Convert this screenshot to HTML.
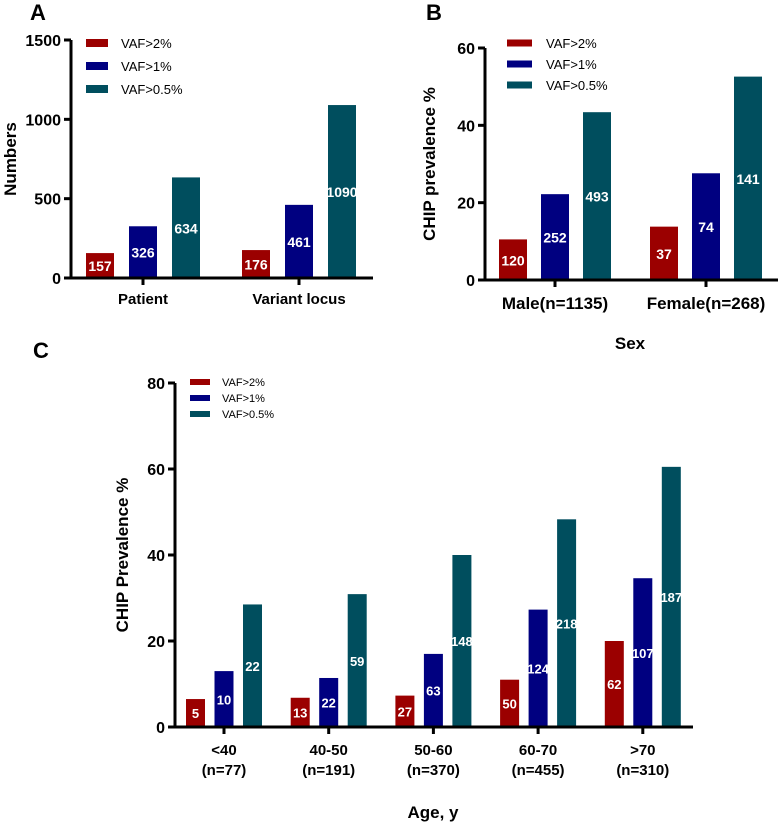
<!DOCTYPE html>
<html><head><meta charset="utf-8"><style>
body{margin:0;background:#fff;}
svg text{font-family:"Liberation Sans",Arial,sans-serif;}
</style></head><body>
<svg id="fig" width="778" height="824" viewBox="0 0 778 824" xmlns="http://www.w3.org/2000/svg"></svg>
<script>
const seriesNames=["VAF>2%","VAF>1%","VAF>0.5%"];
const colors=["#9b0000","#000080","#004e5e"];
// Panel A
const aCategories=["Patient","Variant locus"];
const aValues=[[157,176],[326,461],[634,1090]];
const aLabels=[["157","176"],["326","461"],["634","1090"]];
const aTicks=[0,500,1000,1500];
// Panel B
const bCategories=["Male(n=1135)","Female(n=268)"];
const bValues=[[10.5,13.8],[22.2,27.6],[43.4,52.6]];
const bLabels=[["120","37"],["252","74"],["493","141"]];
const bTicks=[0,20,40,60];
// Panel C
const cCategories=[["<40","(n=77)"],["40-50","(n=191)"],["50-60","(n=370)"],["60-70","(n=455)"],[">70","(n=310)"]];
const cValues=[[6.5,6.8,7.3,11,20],[13,11.4,17,27.3,34.6],[28.5,30.9,40,48.3,60.5]];
const cLabels=[["5","13","27","50","62"],["10","22","63","124","107"],["22","59","148","218","187"]];
const cTicks=[0,20,40,60,80];

const NS="http://www.w3.org/2000/svg";
const svg=document.getElementById('fig');
function mk(tag,attrs,parent,txt){const e=document.createElementNS(NS,tag);for(const k in attrs)e.setAttribute(k,attrs[k]);if(txt!==undefined)e.textContent=txt;(parent||svg).appendChild(e);return e;}

function panel(o){
  const g=mk('g',{});
  
  
  const ymax=o.ticks[o.ticks.length-1];
  const y=v=>o.y0-(v/ymax)*(o.y0-o.yTop);
  const n=o.cats.length;
  const xc=i=>o.c0+i*o.cstep;
  for(let s=0;s<3;s++){
    for(let i=0;i<n;i++){
      const v=o.vals[s][i];
      const x=xc(i)+(s-1)*o.bstep-o.bw/2;
      const r=mk('rect',{x:x,y:y(v),width:o.bw,height:o.y0-y(v),fill:colors[s]},g);
      
      
      const ty=Math.min((y(v)+o.y0)/2+o.fs*0.4, o.y0-4);
      const t=mk('text',{x:xc(i)+(s-1)*o.bstep,y:ty,'text-anchor':'middle','font-size':o.fs,'font-weight':'bold',fill:'#fff'},g,o.labels[s][i]);
      
      
    }
  }
  const ax=mk('path',{d:`M${o.ax},${o.yTop} V${o.y0} H${o.axEnd}`,stroke:'#000','stroke-width':3,fill:'none'},g);
  
  
  o.ticks.forEach(t=>{
    mk('line',{x1:o.ax-7,x2:o.ax,y1:y(t),y2:y(t),stroke:'#000','stroke-width':3},g);
    const tl=mk('text',{x:o.ax-10,y:y(t)+6,'text-anchor':'end','font-size':o.tfs,'font-weight':'bold'},g,String(t));
    
    
  });
  for(let i=0;i<n;i++){
    mk('line',{x1:xc(i),x2:xc(i),y1:o.y0,y2:o.y0+7,stroke:'#000','stroke-width':3},g);
    const lines=Array.isArray(o.cats[i])?o.cats[i]:[o.cats[i]];
    lines.forEach((l,k)=>{
      const tl=mk('text',{x:xc(i),y:o.y0+o.lab0+k*20,'text-anchor':'middle','font-size':o.xfs,'font-weight':'bold'},g,l);
      
      
    });
  }
  for(let s=0;s<3;s++){
    const ly=o.legY+s*o.legStep;
    const sw=mk('rect',{x:o.legX,y:ly-o.swH/2,width:o.swW,height:o.swH,fill:colors[s]},g);
    
    
    const lt=mk('text',{x:o.legX+o.swW+o.legGap,y:ly+o.lfs*0.38,'font-size':o.lfs},g,seriesNames[s]);
    
    
  }
  const yt=mk('text',{x:o.ytx,y:(o.y0+o.yTop)/2,'text-anchor':'middle','font-size':17,'font-weight':'bold',transform:`rotate(-90 ${o.ytx} ${(o.y0+o.yTop)/2})`},g,o.ytitle);
  
  
  if(o.xtitle){
    const xt=mk('text',{x:o.xtx,y:o.xty,'text-anchor':'middle','font-size':17,'font-weight':'bold'},g,o.xtitle);
    
    
  }
  const pl=mk('text',{x:o.plx,y:o.ply,'font-size':22,'font-weight':'bold'},g,o.letter);
  
  
}
panel({id:'panel-a',cats:aCategories,vals:aValues,labels:aLabels,ticks:aTicks,y0:278,yTop:40,ax:71,axEnd:373,c0:143,cstep:156,bstep:43,bw:28,fs:14,tfs:16,xfs:15,lab0:26,legX:86,legY:43,legStep:23,swW:22,swH:8,legGap:13,lfs:13,ytx:16,ytitle:'Numbers',letter:'A',plx:30,ply:20});
panel({id:'panel-b',cats:bCategories,vals:bValues,labels:bLabels,ticks:bTicks,y0:280,yTop:48,ax:485,axEnd:778,c0:555,cstep:151,bstep:42,bw:28,fs:14,tfs:16,xfs:17,lab0:29,legX:507,legY:43,legStep:21,swW:25,swH:7,legGap:14,lfs:13,ytx:435,ytitle:'CHIP prevalence %',xtitle:'Sex',xtx:630,xty:349,letter:'B',plx:426,ply:20});
panel({id:'panel-c',cats:cCategories,vals:cValues,labels:cLabels,ticks:cTicks,y0:727,yTop:383,ax:175,axEnd:693,c0:224,cstep:104.7,bstep:28.5,bw:19,fs:13,tfs:16,xfs:15,lab0:28,legX:190,legY:382,legStep:16,swW:20,swH:6,legGap:12,lfs:11,ytx:128,ytitle:'CHIP Prevalence %',xtitle:'Age, y',xtx:433,xty:818,letter:'C',plx:33,ply:358});
</script>
</body></html>
